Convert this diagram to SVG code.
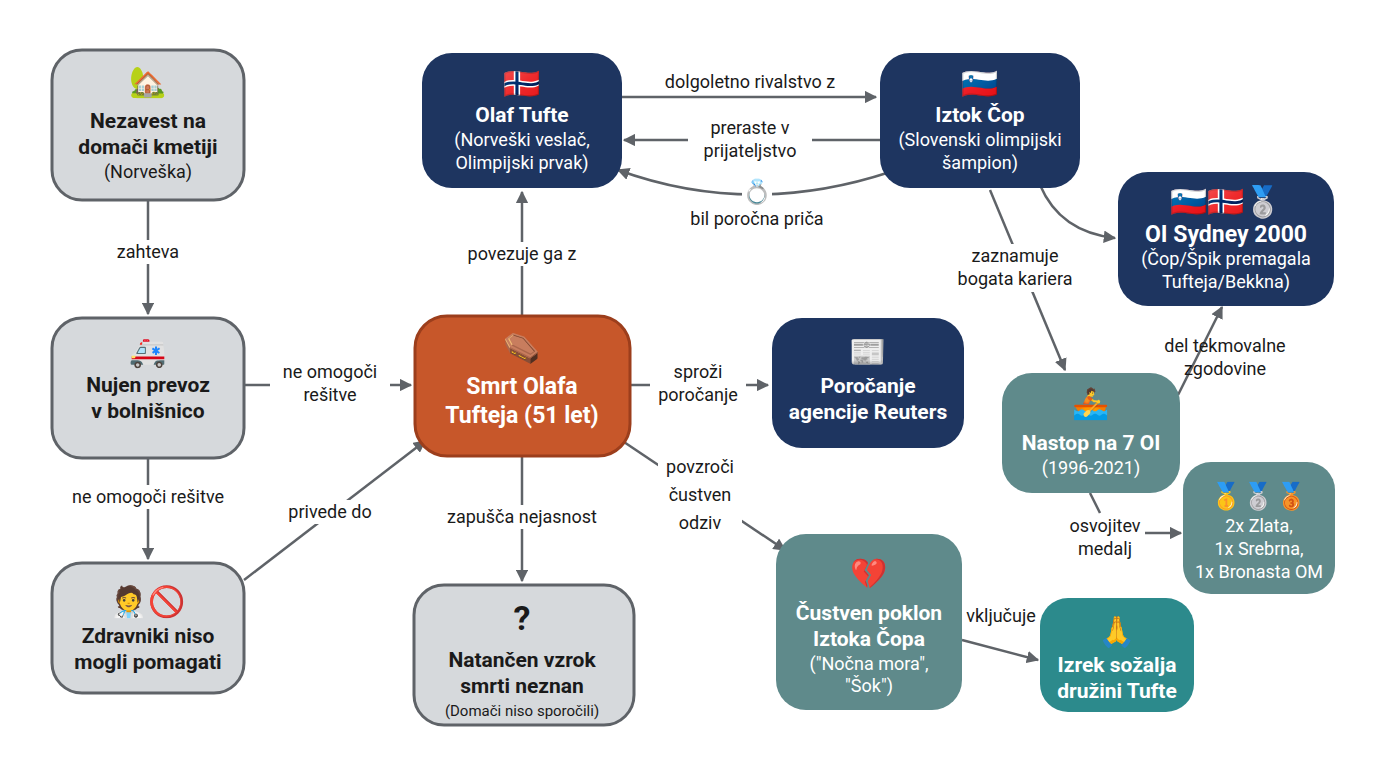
<svg xmlns="http://www.w3.org/2000/svg" width="1376" height="768" viewBox="0 0 1376 768">
<defs>
<marker id="ah" viewBox="0 0 10 10" refX="9" refY="5" markerWidth="5" markerHeight="5" orient="auto-start-reverse"><path d="M0,0 L10,5 L0,10 z" fill="#5f6368"/></marker>
<style>
text{font-family:Roboto,"Liberation Sans",sans-serif;text-anchor:middle}
.gray rect{fill:#d6d9dc;stroke:#5f6368;stroke-width:3}
.navy rect{fill:#1e3560}
.teal rect{fill:#5f8a8b}
.t{font-weight:bold;font-size:21px}
.s{font-size:18px}
.gray .t,.gray .s{fill:#1a1a1a}
.navy text,.teal text,.ctr text{fill:#fff}
.lbl{font-size:18px;fill:#1a1a1a}
.e{font-size:30px;font-family:"Noto Color Emoji",sans-serif}
#conn path{fill:none;stroke:#5f6368;stroke-width:2.5;marker-end:url(#ah)}
</style>
</defs>
<rect width="1376" height="768" fill="#fff"/>
<g id="conn">
<path d="M148,200 L148,314"/>
<path d="M148,458 L148,559"/>
<path d="M244,385 L411,385"/>
<path d="M244,580 L425,441"/>
<path d="M522,316 L522,192"/>
<path d="M522,456 L522,581"/>
<path d="M630,385 L768,385"/>
<path d="M618,438 L785,550"/>
<path d="M622,97 L876,97"/>
<path d="M880,140 L624,140"/>
<path d="M890,172 Q750,218 618,170"/>
<path d="M1040,185 Q1060,232 1115,238"/>
<path d="M990,190 L1065,370"/>
<path d="M1178,395 L1222,307"/>
<path d="M1090,493 L1100,513" style="marker-end:none"/>
<path d="M1145,533 L1181,533"/>
<path d="M962,640 L1038,660"/>
</g>
<g id="labels">
<rect x="108" y="240" width="80" height="24" fill="#fff"/>
<text class="lbl" x="148" y="258">zahteva</text>
<rect x="64" y="485" width="168" height="24" fill="#fff"/>
<text class="lbl" x="148" y="503">ne omogoči rešitve</text>
<rect x="270" y="360" width="120" height="48" fill="#fff"/>
<text class="lbl" x="330" y="378">ne omogoči</text><text class="lbl" x="330" y="401">rešitve</text>
<rect x="283" y="500" width="94" height="24" fill="#fff"/>
<text class="lbl" x="330" y="518">privede do</text>
<rect x="458" y="242" width="128" height="24" fill="#fff"/>
<text class="lbl" x="522" y="260">povezuje ga z</text>
<rect x="438" y="505" width="168" height="24" fill="#fff"/>
<text class="lbl" x="522" y="523">zapušča nejasnost</text>
<rect x="650" y="360" width="96" height="48" fill="#fff"/>
<text class="lbl" x="698" y="378">sproži</text><text class="lbl" x="698" y="401">poročanje</text>
<rect x="658" y="455" width="84" height="80" fill="#fff"/>
<text class="lbl" x="700" y="473">povzroči</text><text class="lbl" x="700" y="501">čustven</text><text class="lbl" x="700" y="529">odziv</text>
<text class="lbl" x="750" y="88">dolgoletno rivalstvo z</text>
<rect x="688" y="116" width="124" height="48" fill="#fff"/>
<text class="lbl" x="750" y="134">preraste v</text><text class="lbl" x="750" y="157">prijateljstvo</text>
<rect x="742" y="172" width="30" height="34" fill="#fff"/>
<text class="e" x="757" y="200" style="font-size:24px">💍</text>
<text class="lbl" x="757" y="225">bil poročna priča</text>
<rect x="952" y="244" width="136" height="48" fill="#fff"/>
<text class="lbl" x="1015" y="262">zaznamuje</text><text class="lbl" x="1015" y="285">bogata kariera</text>
<text class="lbl" x="1225" y="352">del tekmovalne</text><text class="lbl" x="1225" y="375">zgodovine</text>
<text class="lbl" x="1105" y="532">osvojitev</text><text class="lbl" x="1105" y="555">medalj</text>
<text class="lbl" x="1001" y="622">vključuje</text>
</g>
<g id="n1" class="gray"><rect x="52" y="50" width="192" height="150" rx="30"/>
<text class="e" x="148" y="92">🏡</text>
<text class="t" x="148" y="128">Nezavest na</text><text class="t" x="148" y="154">domači kmetiji</text><text class="s" x="148" y="178">(Norveška)</text></g>
<g id="n2" class="gray"><rect x="52" y="318" width="192" height="140" rx="30"/>
<text class="e" x="148" y="362">🚑</text>
<text class="t" x="148" y="392">Nujen prevoz</text><text class="t" x="148" y="418">v bolnišnico</text></g>
<g id="n3" class="gray"><rect x="52" y="563" width="192" height="130" rx="30"/>
<text class="e" x="148" y="612">🧑‍⚕️🚫</text>
<text class="t" x="148" y="643">Zdravniki niso</text><text class="t" x="148" y="669">mogli pomagati</text></g>
<g id="ctr" class="ctr"><rect x="415" y="316" width="215" height="140" rx="32" fill="#c7572a" stroke="#9c3e1c" stroke-width="3"/>
<text class="e" x="522" y="358">⚰️</text>
<text class="t" x="522" y="394" style="font-size:23px">Smrt Olafa</text><text class="t" x="522" y="423" style="font-size:23px">Tufteja (51 let)</text></g>
<g id="olaf" class="navy"><rect x="422" y="53" width="200" height="135" rx="30"/>
<text class="e" x="522" y="94">🇳🇴</text>
<text class="t" x="522" y="122">Olaf Tufte</text><text class="s" x="522" y="146">(Norveški veslač,</text><text class="s" x="522" y="169">Olimpijski prvak)</text></g>
<g id="iztok" class="navy"><rect x="880" y="53" width="200" height="135" rx="30"/>
<text class="e" x="980" y="94">🇸🇮</text>
<text class="t" x="980" y="122">Iztok Čop</text><text class="s" x="980" y="146">(Slovenski olimpijski</text><text class="s" x="980" y="169">šampion)</text></g>
<g id="sydney" class="navy"><rect x="1118" y="172" width="216" height="134" rx="30"/>
<text class="e" x="1226" y="212">🇸🇮🇳🇴🥈</text>
<text class="t" x="1226" y="242" style="font-size:23px">OI Sydney 2000</text><text class="s" x="1226" y="265">(Čop/Špik premagala</text><text class="s" x="1226" y="288">Tufteja/Bekkna)</text></g>
<g id="reuters" class="navy"><rect x="772" y="318" width="192" height="130" rx="30"/>
<text class="e" x="868" y="362">📰</text>
<text class="t" x="868" y="393">Poročanje</text><text class="t" x="868" y="419">agencije Reuters</text></g>
<g id="natancen" class="gray"><rect x="414" y="585" width="220" height="140" rx="30"/>
<text x="522" y="630" style="font-size:34px;font-weight:bold;fill:#1a1a1a">?</text>
<text class="t" x="522" y="667">Natančen vzrok</text><text class="t" x="522" y="693">smrti neznan</text><text class="s" x="522" y="716" style="font-size:15px">(Domači niso sporočili)</text></g>
<g id="nastop" class="teal"><rect x="1002" y="373" width="178" height="120" rx="30"/>
<text class="e" x="1091" y="414">🚣</text>
<text class="t" x="1091" y="450">Nastop na 7 OI</text><text class="s" x="1091" y="474">(1996-2021)</text></g>
<g id="medals" class="teal"><rect x="1183" y="462" width="152" height="132" rx="28"/>
<text class="e" x="1259" y="505" style="font-size:26px">🥇🥈🥉</text>
<text class="s" x="1259" y="532">2x Zlata,</text><text class="s" x="1259" y="555">1x Srebrna,</text><text class="s" x="1259" y="578">1x Bronasta OM</text></g>
<g id="custven" class="teal"><rect x="776" y="534" width="186" height="176" rx="30"/>
<text class="e" x="869" y="584">💔</text>
<text class="t" x="869" y="620">Čustven poklon</text><text class="t" x="869" y="646">Iztoka Čopa</text><text class="s" x="869" y="670">("Nočna mora",</text><text class="s" x="869" y="692">"Šok")</text></g>
<g id="izrek" class="teal"><rect x="1040" y="598" width="154" height="114" rx="28" style="fill:#2c8a8c"/>
<text class="e" x="1117" y="642">🙏</text>
<text class="t" x="1117" y="672">Izrek sožalja</text><text class="t" x="1117" y="698">družini Tufte</text></g>
</svg>
